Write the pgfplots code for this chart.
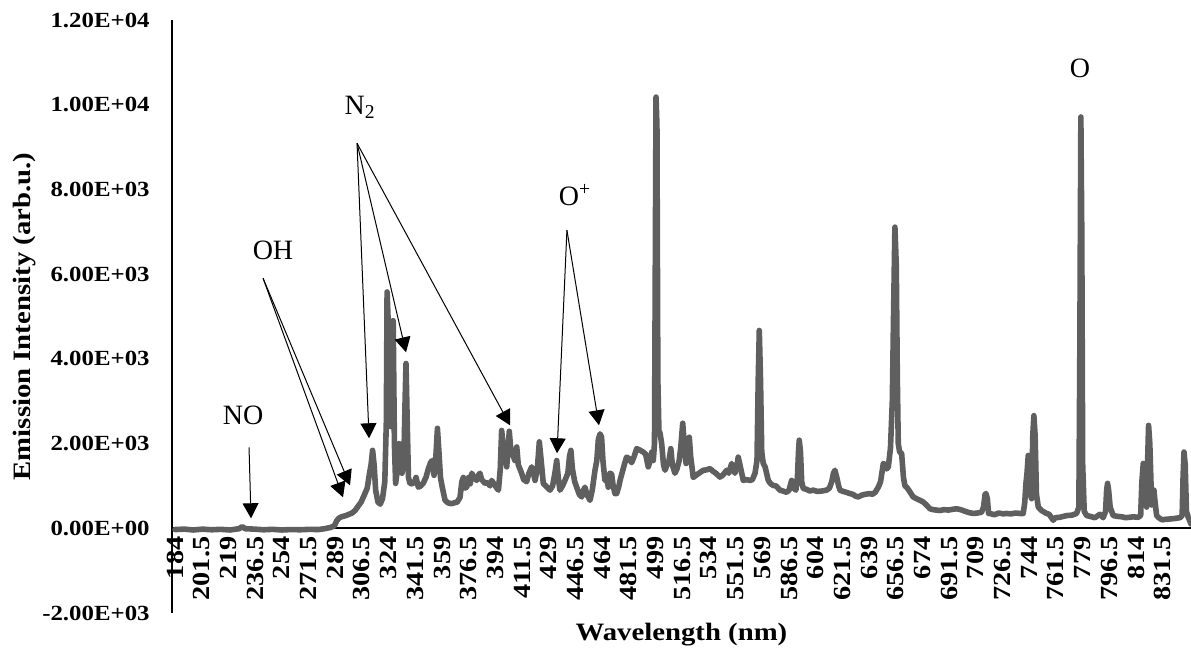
\documentclass[border=0pt]{standalone}
\usepackage{fontspec}
\setmainfont{Liberation Serif}
\newfontfamily\widefont{Liberation Serif}[FakeStretch=1.15]
\usepackage{pgfplots}
\usepackage{pgfplotstable}
\pgfplotsset{compat=1.18}
\usetikzlibrary{arrows.meta}
\definecolor{specgray}{RGB}{95,95,95}

% Plasma emission spectrum (wavelength in nm, intensity in arb. units)
\pgfplotstableread{
wl I
184 -30
190 -20
196 -40
202 -20
208 -35
214 -25
220 -40
226 -10
228 40
230 -10
236 -20
242 -35
248 -25
254 -40
260 -30
266 -35
272 -25
278 -30
282 -10
286 20
288.5 60
290 180
291.5 240
293 270
296 300
298 330
300 360
302 420
304 520
306 620
308 780
310 950
311.5 1300
312.5 1500
313.5 1840
314.5 1500
315.5 900
317 620
318.5 570
320 700
321.5 1100
322.5 2500
323 5580
323.8 4800
324.5 2600
325.5 2400
326.3 4850
327 4900
327.8 2000
328.6 1060
329.5 1300
330.8 2000
331.8 1400
332.8 1300
334 1600
334.8 3000
335.4 3890
336.2 2500
337 1200
338 1060
339.5 1050
341 1100
342 1200
343.5 970
345 1000
346.6 1060
348.5 1200
350 1400
351.5 1550
352.5 1600
353.8 1250
355 1700
356 2360
357 1800
358 1200
359 1000
361 660
363 600
365 580
367 600
369 620
370.8 730
372 1100
373 1200
374 950
375.2 970
376.5 1200
377.5 1050
378.5 1300
380 1200
381.7 1130
382.8 1250
383.9 1300
385 1150
387.2 1060
389 1080
390.5 1000
391.6 1130
393 1050
394.9 950
396 900
397.2 1400
398.1 2310
399 2000
400.3 1680
401.4 1450
402.2 1800
403.1 2290
404 1900
405.8 1700
406.8 1600
408 1920
409 1500
411.2 1300
412.5 1150
414.5 1100
416 1300
417.8 1450
419 1300
420 1130
421.5 1400
422.8 2040
424 1600
425.4 1060
427 1000
429.8 900
431.5 1000
433 1300
434.2 1600
435.2 1200
436.3 900
438 1000
439.6 1130
441.5 1300
442.6 1700
443.5 1840
444.5 1400
446 1100
447.3 970
449 800
450.6 740
451.8 900
452.7 970
454 800
456 660
457.5 900
459.3 1370
460.5 1600
461.5 2100
462.6 2230
463.6 2150
464.5 1600
465.8 1130
467 1200
468 970
469 1300
470.2 1280
471.2 1000
472.4 820
473.5 820
475 1000
475.7 1130
477 1300
478.5 1500
480 1680
481.5 1650
483.3 1550
485 1700
486.6 1880
488.5 1850
490.9 1800
492.5 1750
494.2 1450
495.5 1600
496.5 1800
497.5 1600
498.3 2000
498.8 6000
499.3 10180
499.9 9500
500.5 3500
501.2 2300
501.9 2250
503 2000
504.2 1500
505.2 1370
506.5 1500
507.8 1600
509 1880
510 1500
511.7 1300
513 1400
514.5 1600
515.5 1900
516.8 2480
517.8 2000
519 1530
520.2 1700
521.1 2150
522 1700
523.7 1200
525.5 1250
527.5 1300
530.3 1370
532.5 1380
534.7 1410
536.5 1350
538.5 1300
541.2 1210
543 1250
545.6 1370
547 1300
548.9 1530
550 1400
551 1300
552.2 1450
553.2 1680
554.3 1500
556.5 1130
558.5 1150
560.9 1130
562.5 1150
564.2 1300
565.5 1600
566.3 3500
567 4670
567.8 3500
568.6 1800
569.6 1530
570.8 1450
572.9 1130
574.5 1050
576.2 1010
578 1000
580.5 900
582.5 880
584.9 850
586.5 900
588.2 1130
589.5 950
591 900
592 1200
592.7 1800
593.2 2080
594 1800
594.8 1100
595.8 940
598 920
600 880
602.4 900
605 870
608 880
611.1 900
613 950
614.5 1100
615.6 1300
616.6 1370
617.8 1200
619 1000
619.9 900
622 870
624 850
626.4 820
628.5 800
630 760
631.9 740
634 780
636 800
639.6 820
641 800
643 850
645 970
646.5 1100
648.3 1530
649.5 1500
650.5 1400
651.6 1450
653 1900
654.2 3000
655 5000
655.9 7110
656.8 6200
657.5 3500
658.1 2000
659 1800
660.3 1770
661.5 1200
662.5 1000
663.6 970
665 900
667.9 740
670 700
672.3 660
674.5 620
676.5 550
678.9 460
681 440
683 430
685.4 420
688 440
691 430
694 450
696.4 460
699 440
702 400
704.5 370
707.3 350
710 360
712.7 380
714 500
715 800
715.6 820
716.5 700
717.3 350
718.2 350
721 320
724 360
727 340
729.1 350
732 340
735 360
738 350
740 350
741 600
741.8 1060
742.5 1300
743.3 1720
744 1400
744.7 800
745.5 700
746.3 2200
747 2660
747.8 2200
748.7 800
749.9 500
752 420
755.3 350
757 330
759.7 190
761 250
764 260
768.5 300
772 310
775 350
776.5 500
777.1 4000
777.8 9710
778.4 7000
779 1500
780 400
781.6 300
784 280
787 250
790.3 330
792.4 250
794 400
794.7 900
795.3 1060
796 900
797 500
799 300
802 280
805 270
807 250
809.9 260
812 270
815.4 260
817 300
817.8 1100
818.7 1530
819.7 1300
820.9 500
821.5 1500
822.2 2430
823 2000
824.2 550
825 800
825.7 900
826.5 600
827.5 300
828.5 260
831 200
833 210
836.2 220
839 230
842.7 250
844.2 300
844.8 1200
845.4 1800
846.2 1500
847 400
848.2 260
849.5 150
850 100
}\spectrum

\begin{document}
\begin{tikzpicture}
\begin{axis}[
  scale only axis,
  width=509.5bp, height=296.5bp,
  xmin=182, xmax=850, ymin=-2000, ymax=12000,
  axis x line*=middle, axis y line*=left,
  axis line style={black, line width=0.8bp},
  major tick length=0pt,
  scaled x ticks=false, scaled y ticks=false,
  xtick={184,201.5,219,236.5,254,271.5,289,306.5,324,341.5,359,376.5,394,411.5,429,446.5,464,481.5,499,516.5,534,551.5,569,586.5,604,621.5,639,656.5,674,691.5,709,726.5,744,761.5,779,796.5,814,831.5},
  xticklabels={184,201.5,219,236.5,254,271.5,289,306.5,324,341.5,359,376.5,394,411.5,429,446.5,464,481.5,499,516.5,534,551.5,569,586.5,604,621.5,639,656.5,674,691.5,709,726.5,744,761.5,779,796.5,814,831.5},
  ytick={-2000,0,2000,4000,6000,8000,10000,12000},
  yticklabels={-2.00E+03,0.00E+00,2.00E+03,4.00E+03,6.00E+03,8.00E+03,1.00E+04,1.20E+04},
  yticklabel style={anchor=east, inner sep=0pt, xshift=-11bp,
    font=\widefont\bfseries\fontsize{10.8bp}{12bp}\selectfont},
  xticklabel style={rotate=90, anchor=east, inner sep=0pt, xshift=-4bp,
    font=\widefont\bfseries\fontsize{12.3bp}{14bp}\selectfont},
  xlabel={Wavelength (nm)},
  ylabel={Emission Intensity (arb.u.)},
  xlabel style={at={(axis description cs:0.5,-0.0371)}, anchor=center,
    font=\widefont\bfseries\fontsize{12.5bp}{14bp}\selectfont},
  ylabel style={at={(axis description cs:-0.1443,0.5)}, anchor=center,
    font=\widefont\bfseries\fontsize{12.5bp}{14bp}\selectfont},
]
\addplot[specgray, line width=2.8bp, line join=round, line cap=round]
  table[x=wl, y=I] {\spectrum};

% species labels with pointer arrows
\tikzset{lbl/.style={font=\fontsize{14bp}{16bp}\selectfont, inner sep=0pt},
         ptr/.style={-{Triangle[width=8bp,length=7.5bp]}, line width=0.5bp, black}}
\node[lbl] at (axis cs:228.6,2668) {NO};
\draw[ptr] (axis cs:232.5,1912) -- (axis cs:233.8,236);

\node[lbl] at (axis cs:248.2,6564) {OH};
\draw[ptr] (axis cs:241.7,5903) -- (axis cs:298.7,1015);
\draw[ptr] (axis cs:241.7,5903) -- (axis cs:294.1,732);

\node[lbl] at (axis cs:305.3,9940) {N\textsubscript{2}};
\draw[ptr] (axis cs:303.3,9090) -- (axis cs:311.2,2125);
\draw[ptr] (axis cs:303.3,9090) -- (axis cs:335.4,4155);
\draw[ptr] (axis cs:303.3,9090) -- (axis cs:403.6,2432);

\node[lbl] at (axis cs:446.2,7862) {O\textsuperscript{+}};
\draw[ptr] (axis cs:440.9,7036) -- (axis cs:434.4,1771);
\draw[ptr] (axis cs:440.9,7036) -- (axis cs:461.9,2432);

\node[lbl] at (axis cs:777.2,10860) {O};
\end{axis}
\pgfresetboundingbox
\path[use as bounding box] (-86bp,-20bp) rectangle (509.5bp,306.5bp);
\end{tikzpicture}
\end{document}
